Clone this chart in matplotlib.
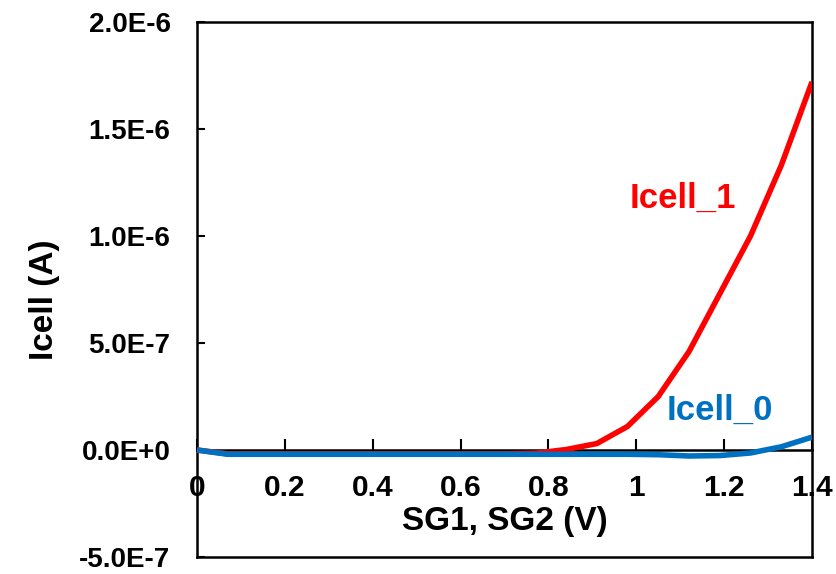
import matplotlib
matplotlib.use("Agg")
import matplotlib.pyplot as plt

plt.rcParams["font.family"] = ["Liberation Sans", "DejaVu Sans"]
plt.rcParams["font.weight"] = "bold"

# gate voltage sweep (V)
sg_v = [0.0, 0.07, 0.14, 0.21, 0.28, 0.35, 0.42, 0.49, 0.56, 0.63, 0.70,
        0.77, 0.84, 0.91, 0.98, 1.05, 1.12, 1.19, 1.26, 1.33, 1.40]

# cell current (A)
icell_1 = [0.0, -1.8e-8, -1.8e-8, -1.8e-8, -1.8e-8, -1.8e-8, -1.8e-8,
           -1.8e-8, -1.8e-8, -1.8e-8, -1.8e-8, -1.5e-8, 2e-9, 3.0e-8,
           1.1e-7, 2.5e-7, 4.6e-7, 7.3e-7, 1.0e-6, 1.33e-6, 1.72e-6]
icell_0 = [0.0, -2.0e-8, -2.0e-8, -2.0e-8, -2.0e-8, -2.0e-8, -2.0e-8,
           -2.0e-8, -2.0e-8, -2.0e-8, -2.0e-8, -2.0e-8, -2.0e-8, -2.0e-8,
           -2.0e-8, -2.2e-8, -2.8e-8, -2.6e-8, -1.4e-8, 1.5e-8, 6.0e-8]

x_ticks = [0.0, 0.2, 0.4, 0.6, 0.8, 1.0, 1.2, 1.4]
x_ticklabels = ["0", "0.2", "0.4", "0.6", "0.8", "1", "1.2", "1.4"]
y_ticks = [-5e-7, 0.0, 5e-7, 1e-6, 1.5e-6, 2e-6]
y_ticklabels = ["-5.0E-7", "0.0E+0", "5.0E-7", "1.0E-6", "1.5E-6", "2.0E-6"]

fig = plt.figure(figsize=(8.36, 5.74), dpi=100)
ax = fig.add_axes([197 / 836, 1 - 557 / 574, 615 / 836, 535 / 574])

ax.plot(sg_v, icell_1, color="#FF0000", linewidth=4.0, solid_capstyle="butt", zorder=3)
ax.plot(sg_v, icell_0, color="#0070C0", linewidth=4.0, solid_capstyle="butt", zorder=4)

ax.set_xlim(0, 1.4)
ax.set_ylim(-5e-7, 2e-6)

# x axis sits on the zero line, box is closed with a border line
ax.spines["bottom"].set_position(("data", 0))
for sp in ax.spines.values():
    sp.set_linewidth(1.8)
ax.plot([0, 1], [0, 0], transform=ax.transAxes, color="black",
        linewidth=1.8, clip_on=False, zorder=5)

ax.set_xticks(x_ticks)
ax.set_xticklabels(x_ticklabels, fontsize=21.5, fontweight="bold")
ax.set_yticks(y_ticks)
ax.set_yticklabels(y_ticklabels, fontsize=20, fontweight="bold")
ax.tick_params(axis="x", direction="in", length=8, width=1.5, pad=17)
ax.tick_params(axis="y", direction="in", length=6, width=1.5, pad=19)

ax.set_xlabel("SG1, SG2 (V)", fontsize=24, fontweight="bold")
ax.xaxis.set_label_coords(0.5, 0.096)
ax.set_ylabel("Icell (A)", fontsize=24, fontweight="bold")
ax.yaxis.set_label_coords(-0.222, 0.48)

ax.text(1.106, 1.177e-6, "Icell_1", color="#FF0000", fontsize=25,
        fontweight="bold", ha="center", va="center")
ax.text(1.19, 1.86e-7, "Icell_0", color="#0070C0", fontsize=25,
        fontweight="bold", ha="center", va="center")

fig.savefig("out.png", dpi=100)
